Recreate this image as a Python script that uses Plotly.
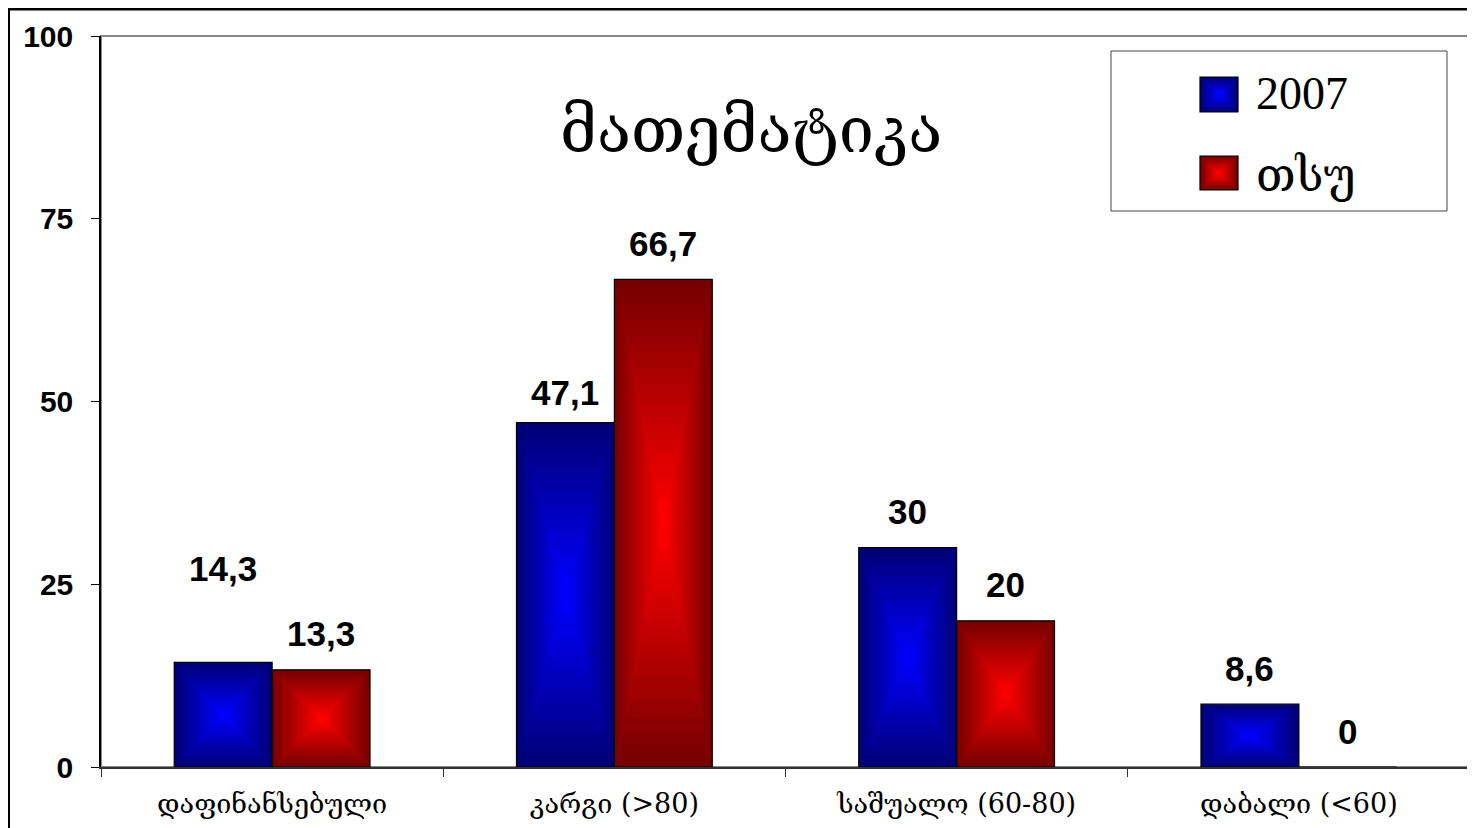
import plotly.graph_objects as go

# ---- data ----
categories = ["დაფინანსებული", "კარგი (>80)", "საშუალო (60-80)", "დაბალი (<60)"]
series_names = ["2007", "თსუ"]
values_2007 = [14.3, 47.1, 30, 8.6]
values_tsu = [13.3, 66.7, 20, 0]
y_ticks = [0, 25, 50, 75, 100]
title_text = "მათემატიკა"

# ---- styles / layout (page pixel coordinates, the page body adds an 8px offset) ----
OFF = 8
W, H = 1475 - OFF, 828 - OFF
PL, PR, PT, PB = 101, 1470, 36, 767  # plot area in page pixels
ML, MR, MT, MB = PL - OFF, W - (PR - OFF), PT - OFF, H - (PB - OFF)
BAR_W = 0.286
N_LAYERS = 30
edge_cols = [(0, 0, 118), (118, 0, 0)]
center_cols = [(0, 0, 255), (255, 0, 0)]
label_shift = {(0, 0): 94, (1, 0): 30}  # (category, series) -> px
default_shift = 36
SERIF = "Liberation Serif, DejaVu Serif, serif"
GEO = "DejaVu Serif, serif"
SANS = "Liberation Sans, Arial, sans-serif"


def lerp(a, b, t):
    return "rgb(%d,%d,%d)" % tuple(round(a[i] + (b[i] - a[i]) * t) for i in range(3))


plot_w = PR - PL
plot_h = PB - PT


def px_x(x):
    return (x - PL) / plot_w


def px_y(y):
    return (PB - y) / plot_h


fig = go.Figure()
series = [values_2007, values_tsu]
for s, vals in enumerate(series):
    base_off = -BAR_W if s == 0 else 0.0
    for k in range(N_LAYERS):
        f = 1 - k / N_LAYERS
        t = k / (N_LAYERS - 1)
        fig.add_trace(go.Bar(
            x=categories,
            y=[v * f for v in vals],
            base=[v * (1 - f) / 2 for v in vals],
            width=BAR_W * f,
            offset=base_off + BAR_W * (1 - f) / 2,
            marker=dict(color=lerp(edge_cols[s], center_cols[s], t),
                        line=dict(color="black" if k == 0 else "rgba(0,0,0,0)",
                                  width=1.2 if k == 0 else 0)),
            name=series_names[s],
            showlegend=False,
            hoverinfo="skip" if k else "y+name",
        ))

# data labels
annotations = []
for s, vals in enumerate(series):
    for i, v in enumerate(vals):
        txt = ("%g" % v).replace(".", ",")
        annotations.append(dict(
            x=categories[i], y=v, xref="x", yref="y",
            xshift=(-BAR_W / 2 if s == 0 else BAR_W / 2) * plot_w / len(categories),
            yshift=label_shift.get((i, s), default_shift),
            text=txt, showarrow=False,
            font=dict(family=SANS, size=35, color="black", weight="bold"),
        ))

# title inside plot
annotations.append(dict(
    x=px_x(751), y=px_y(92),
    xref="paper", yref="paper", text=title_text, showarrow=False,
    font=dict(family=GEO, size=63, color="black"),
))

shapes = []
# plot area border (top/right grey)
shapes.append(dict(type="rect", xref="paper", yref="paper", x0=0, x1=1, y0=0, y1=1,
                   line=dict(color="#888888", width=2), layer="below"))
# outer frame
shapes.append(dict(type="line", xref="paper", yref="paper", x0=px_x(OFF), x1=px_x(1475),
                   y0=px_y(OFF + 1), y1=px_y(OFF + 1), line=dict(color="black", width=3)))
shapes.append(dict(type="line", xref="paper", yref="paper", x0=px_x(OFF + 1), x1=px_x(OFF + 1),
                   y0=px_y(OFF), y1=px_y(828), line=dict(color="black", width=2)))
# legend box
shapes.append(dict(type="rect", xref="paper", yref="paper", x0=px_x(1111), x1=px_x(1447),
                   y0=px_y(211), y1=px_y(51), line=dict(color="#444444", width=1),
                   fillcolor="white"))
# legend swatches with gradient
sw = [(1200, 77, 1238, 112), (1200, 156, 1238, 190)]
text_y = [94, 176]
for s in range(2):
    x0, y0, x1, y1 = sw[s]
    n = 10
    for k in range(n):
        f = 1 - k / n
        cx, cy = (x0 + x1) / 2, (y0 + y1) / 2
        hw, hh = (x1 - x0) / 2 * f, (y1 - y0) / 2 * f
        shapes.append(dict(type="rect", xref="paper", yref="paper",
                           x0=px_x(cx - hw), x1=px_x(cx + hw),
                           y0=px_y(cy + hh), y1=px_y(cy - hh),
                           fillcolor=lerp(edge_cols[s], center_cols[s], k / (n - 1)),
                           line=dict(color="black" if k == 0 else "rgba(0,0,0,0)",
                                     width=1.2 if k == 0 else 0)))
    annotations.append(dict(x=px_x(1254), y=px_y(text_y[s]), xref="paper", yref="paper",
                            xanchor="left", yanchor="middle", text=series_names[s],
                            showarrow=False,
                            font=dict(family=SERIF, size=46, color="black")))

fig.update_layout(
    width=W, height=H,
    margin=dict(l=ML, r=MR, t=MT, b=MB),
    paper_bgcolor="white", plot_bgcolor="white",
    barmode="overlay",
    showlegend=False,
    annotations=annotations,
    shapes=shapes,
    xaxis=dict(
        type="category", categoryorder="array", categoryarray=categories,
        tickson="boundaries", ticks="outside", ticklen=8, tickcolor="#333333",
        showline=True, linecolor="#333333", linewidth=1.5,
        showgrid=False, zeroline=False,
        tickfont=dict(family=GEO, size=27, color="black"),
        ticklabelstandoff=12,
    ),
    yaxis=dict(
        range=[0, 100], tickvals=y_ticks, ticktext=[str(t) for t in y_ticks],
        ticks="outside", ticklen=8, tickcolor="black",
        showline=True, linecolor="black", linewidth=1.5,
        showgrid=False, zeroline=False,
        tickfont=dict(family=SANS, size=30, color="black", weight="bold"),
        ticklabelstandoff=12,
    ),
)

fig.write_html("out.html")
